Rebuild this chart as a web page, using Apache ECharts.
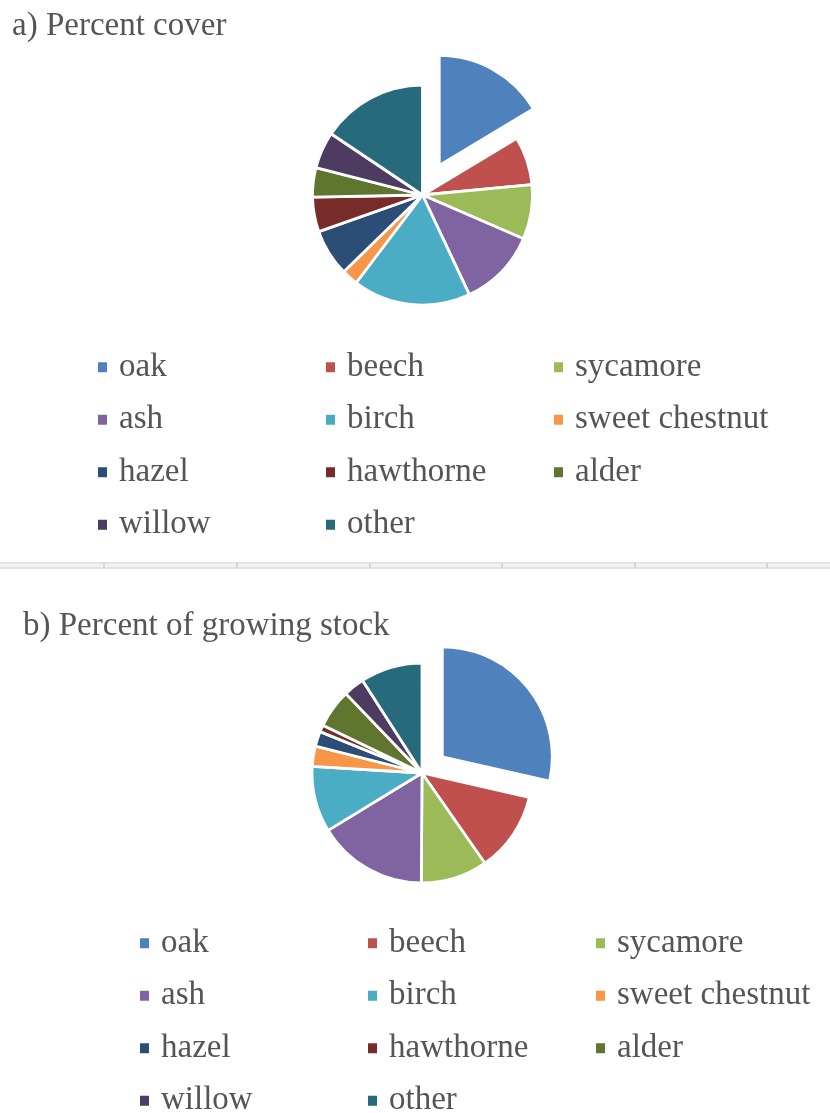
<!DOCTYPE html>
<html>
<head>
<meta charset="utf-8">
<script src="https://cdn.jsdelivr.net/npm/echarts@6/dist/echarts.min.js"></script>
<style>
  html, body { margin: 0; padding: 0; background: #ffffff; }
  #chart { width: 830px; height: 1113px; }
</style>
</head>
<body>
<div id="chart"></div>
<script>
// Tree species shown in both pies (same order, same colours)
const species = ['oak', 'beech', 'sycamore', 'ash', 'birch', 'sweet chestnut',
                 'hazel', 'hawthorne', 'alder', 'willow', 'other'];

// a) percent cover by species
const coverValues = [16.4, 7.1, 8.0, 11.5, 17.3, 2.4, 6.9, 5.1, 4.3, 5.4, 15.6];

// b) percent of growing stock by species
const stockValues = [28.6, 11.8, 9.8, 16.2, 9.7, 3.0, 2.2, 1.0, 5.7, 3.1, 9.1];

// Office-style slice palette
const palette = ['#4F81BD', '#C0504D', '#9BBB59', '#8064A2', '#4BACC6', '#F79646',
                 '#2C4D75', '#772C2A', '#5F7530', '#4D3B62', '#276A7C'];

const FONT = '"Liberation Serif", "Times New Roman", serif';
const TEXT = '#555555';

function pieData(values) {
  // the first species (oak) is pulled out of the pie
  return species.map((name, i) => ({ name, value: values[i], selected: i === 0 }));
}

function pieSeries(values, center, offset) {
  return {
    type: 'pie',
    center: center,
    radius: 110,
    startAngle: 90,
    clockwise: true,
    selectedMode: 'single',
    selectedOffset: offset,
    avoidLabelOverlap: false,
    label: { show: false },
    labelLine: { show: false },
    itemStyle: { borderColor: '#ffffff', borderWidth: 2.8 },
    emphasis: { scale: false },
    data: pieData(values)
  };
}

function legendBlock(left, top) {
  return {
    data: species,
    left: left,
    top: top,
    width: 700,
    orient: 'horizontal',
    padding: 0,
    itemGap: 0,
    itemWidth: 11,
    itemHeight: 12,
    icon: 'rect',
    selectedMode: false,
    textStyle: {
      fontFamily: FONT,
      fontSize: 33,
      color: TEXT,
      width: 205,
      lineHeight: 52.5,
      padding: [0, 0, 0, 6]
    }
  };
}

// thin ruler-like divider between the two panels
const tickXs = [104, 237, 370, 502, 635, 767];
const divider = [
  { type: 'rect', shape: { x: 0, y: 563, width: 830, height: 5 },
    style: { fill: '#f3f3f3', stroke: null } },
  { type: 'line', shape: { x1: 0, y1: 563, x2: 830, y2: 563 },
    style: { stroke: '#dcdcdc', lineWidth: 1.5 } },
  { type: 'line', shape: { x1: 0, y1: 568, x2: 830, y2: 568 },
    style: { stroke: '#dcdcdc', lineWidth: 1.5 } }
].concat(tickXs.map(x => ({
  type: 'line', shape: { x1: x, y1: 563, x2: x, y2: 568 },
  style: { stroke: '#cccccc', lineWidth: 1.5 }
})));

const chart = echarts.init(document.getElementById('chart'), null, { renderer: 'canvas' });
chart.setOption({
  animation: false,
  backgroundColor: '#ffffff',
  color: palette,
  title: [
    { text: 'a) Percent cover', left: 12, top: 10, padding: 0,
      textStyle: { fontFamily: FONT, fontSize: 33, fontWeight: 'normal', color: TEXT } },
    { text: 'b) Percent of growing stock', left: 23, top: 610, padding: 0,
      textStyle: { fontFamily: FONT, fontSize: 33, fontWeight: 'normal', color: TEXT } }
  ],
  legend: [legendBlock(96, 341), legendBlock(138, 917)],
  series: [
    pieSeries(coverValues, [422.5, 195], 34),
    pieSeries(stockValues, [422, 773], 26)
  ],
  graphic: divider
});
</script>
</body>
</html>
